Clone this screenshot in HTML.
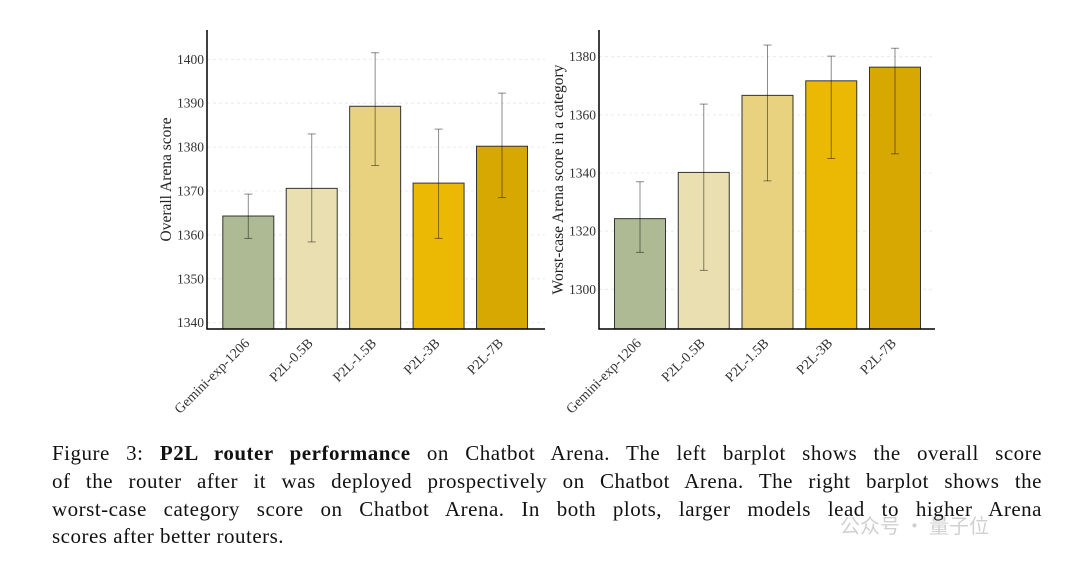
<!DOCTYPE html>
<html><head><meta charset="utf-8"><style>
body{margin:0;background:#fff;width:1080px;height:567px;overflow:hidden;font-family:"Liberation Serif",serif}
#cap{position:absolute;left:52px;top:440px;width:990px;font-size:21px;line-height:27.8px;color:#111;letter-spacing:0.5px}
#cap div{text-align:justify;text-align-last:justify;white-space:nowrap}
#cap div.last{text-align-last:left}
</style></head><body>
<svg id="chart" width="1080" height="430" style="position:absolute;left:0;top:0"></svg>
<div id="cap">
<div>Figure 3: <b>P2L router performance</b> on Chatbot Arena. The left barplot shows the overall score</div>
<div>of the router after it was deployed prospectively on Chatbot Arena. The right barplot shows the</div>
<div>worst-case category score on Chatbot Arena. In both plots, larger models lead to higher Arena</div>
<div class="last">scores after better routers.</div>
</div>
<div style="position:absolute;left:840px;top:510px;font-family:'Noto Sans CJK SC',sans-serif;font-size:20px;color:rgba(120,120,120,0.35)">公众号 · 量子位</div>
<script>
const categories=["Gemini-exp-1206","P2L-0.5B","P2L-1.5B","P2L-3B","P2L-7B"];
const colors=["#adba93","#eadfb0","#e8d27f","#ebb803","#d6a801"];
const overallValues=[1364.3,1370.6,1389.3,1371.8,1380.2];
const overallLow=[1359.2,1358.4,1375.8,1359.2,1368.5];
const overallHigh=[1369.3,1383.0,1401.5,1384.1,1392.3];
const overallTicks=[1340,1350,1360,1370,1380,1390,1400];
const worstValues=[1324.3,1340.2,1366.7,1371.7,1376.4];
const worstLow=[1312.7,1306.5,1337.3,1345.0,1346.6];
const worstHigh=[1337.0,1363.7,1384.0,1380.2,1382.9];
const worstTicks=[1300,1320,1340,1360,1380];
const NS="http://www.w3.org/2000/svg";
const svg=document.getElementById('chart');
function mk(t,a,p){const e=document.createElementNS(NS,t);for(const k in a)e.setAttribute(k,a[k]);(p||svg).appendChild(e);return e;}
function panel(o){
  const g=mk('g',{});
  
  
  const y=v=>o.y0+(v-o.v0)*o.k;
  o.ticks.forEach(t=>{
    const l=mk('line',{x1:o.x0,x2:o.x1,y1:y(t),y2:y(t),stroke:'#e6e6e6','stroke-dasharray':'3,3','stroke-width':0.8},g);
    
    
    const tx=mk('text',{x:o.x0-3,y:y(t)+4.5,'text-anchor':'end','font-size':13.5,fill:'#333'},g);
    tx.textContent=t;
    
    
  });
  const step=(o.c1-o.c0)/(categories.length-1);
  categories.forEach((c,i)=>{
    const cx=o.c0+i*step;
    const r=mk('rect',{x:cx-25.5,y:y(o.vals[i]),width:51,height:o.yb-y(o.vals[i]),fill:colors[i],stroke:'#333','stroke-width':1},g);
    
    
    const eb=mk('g',{stroke:'rgba(0,0,0,0.45)','stroke-width':1},g);
    
    
    mk('line',{x1:cx,x2:cx,y1:y(o.lo[i]),y2:y(o.hi[i])},eb);
    mk('line',{x1:cx-4,x2:cx+4,y1:y(o.lo[i]),y2:y(o.lo[i])},eb);
    mk('line',{x1:cx-4,x2:cx+4,y1:y(o.hi[i]),y2:y(o.hi[i])},eb);
    const tx=mk('text',{x:cx+2,y:o.yb+15,'text-anchor':'end','font-size':14,fill:'#333',transform:`rotate(-45 ${cx+2} ${o.yb+15})`},g);
    tx.textContent=c;
    
    
  });
  const ax=mk('path',{d:`M${o.x0},30 V${o.yb} H${o.x1}`,fill:'none',stroke:'#000','stroke-width':1.5},g);
  
  
  const yl=mk('text',{x:o.lx,y:(30+o.yb)/2,'text-anchor':'middle','font-size':15.5,fill:'#222',transform:`rotate(-90 ${o.lx} ${(30+o.yb)/2})`},g);
  yl.textContent=o.label;
  
  
}
panel({name:'overall-score-chart',x0:207,x1:545,yb:329,y0:322.7,v0:1340,k:-4.39,ticks:overallTicks,vals:overallValues,lo:overallLow,hi:overallHigh,c0:248.3,c1:502,lx:171,label:'Overall Arena score'});
panel({name:'worst-case-score-chart',x0:599,x1:935,yb:329,y0:289.3,v0:1300,k:-2.9075,ticks:worstTicks,vals:worstValues,lo:worstLow,hi:worstHigh,c0:640,c1:895,lx:563,label:'Worst-case Arena score in a category'});
</script>
</body></html>
